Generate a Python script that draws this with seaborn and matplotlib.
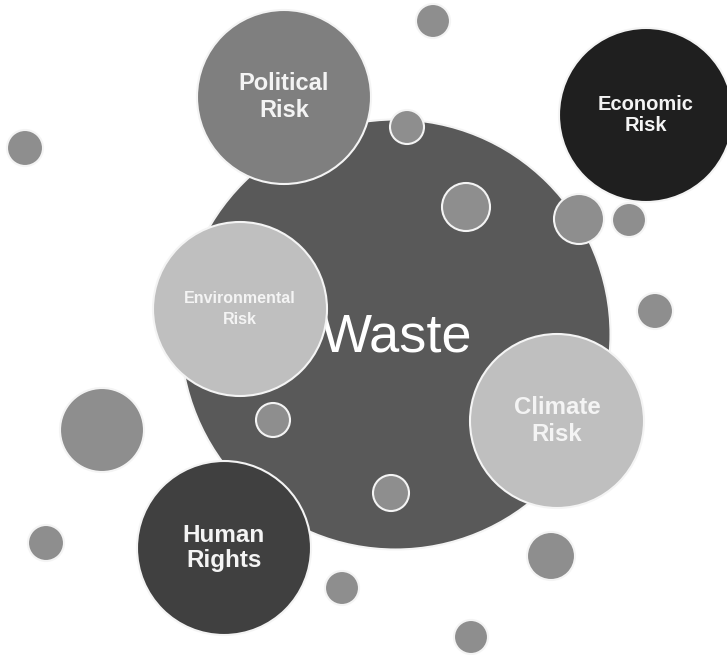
import numpy as np
import pandas as pd
import matplotlib
matplotlib.use("Agg")
import matplotlib.pyplot as plt
import seaborn as sns

# bubble data (pixel space of the original figure)
kinds = ["waste", "political", "economic", "environmental", "climate", "human",
         "small", "small", "small", "small", "small", "small", "small",
         "small", "small", "small", "small", "small", "small", "small"]
labels = ["Waste", "Political\nRisk", "Economic\nRisk", "Environmental\nRisk",
          "Climate\nRisk", "Human\nRights"] + [""] * 14
cx = [395, 284, 646, 240, 557, 224,
      433, 25, 407, 466, 579, 629, 655, 102, 273, 391, 46, 342, 551, 471]
cy = [334, 97, 115, 309, 421, 548,
      21, 148, 127, 207, 219, 220, 311, 430, 420, 493, 543, 588, 556, 637]
radius = [215, 87, 87, 87, 87, 87,
          17, 18, 17, 24, 25, 17, 18, 42, 17, 18, 18, 17, 24, 17]
label_size = [39, 17, 14.5, 11.5, 17.3, 17.5] + [0] * 14
line_gap = [1.0, 1.2, 1.15, 1.55, 1.2, 1.15] + [1.0] * 14

palette = {"waste": "#595959", "political": "#7f7f7f", "economic": "#1f1f1f",
           "environmental": "#bfbfbf", "climate": "#bfbfbf", "human": "#404040",
           "small": "#8e8e8e"}

df = pd.DataFrame({"kind": kinds, "label": labels, "x": cx, "y": cy,
                   "r": radius, "fs": label_size, "ls": line_gap})

dpi = 100
sizes = {r: (2 * r * 72 / dpi) ** 2 for r in sorted(set(radius))}

sns.set_theme(style="white")
plt.rcParams["font.family"] = ["Liberation Sans", "DejaVu Sans"]

fig = plt.figure(figsize=(7.27, 6.55), dpi=dpi)
ax = fig.add_axes([0, 0, 1, 1])

back = df[df.kind == "waste"]
front = df[df.kind != "waste"]

sns.scatterplot(data=back, x="x", y="y", hue="kind", palette=palette,
                size="r", sizes=sizes, edgecolor="#f4f4f4", linewidth=1.5,
                legend=False, ax=ax, zorder=1)
ax.text(397, 351, "Waste", fontsize=39, color="white", ha="center",
        va="baseline", zorder=2)
sns.scatterplot(data=front, x="x", y="y", hue="kind", palette=palette,
                size="r", sizes=sizes, edgecolor="#f4f4f4", linewidth=1.5,
                legend=False, ax=ax, zorder=3)

for _, row in front[front.label != ""].iterrows():
    ax.text(row.x, row.y, row.label, fontsize=row.fs, fontweight="bold",
            color="#f4f4f4", ha="center", va="center", linespacing=row.ls,
            zorder=4)

ax.set_xlim(0, 727)
ax.set_ylim(655, 0)
ax.set_axis_off()
fig.savefig("out.png", dpi=dpi, facecolor="white")
